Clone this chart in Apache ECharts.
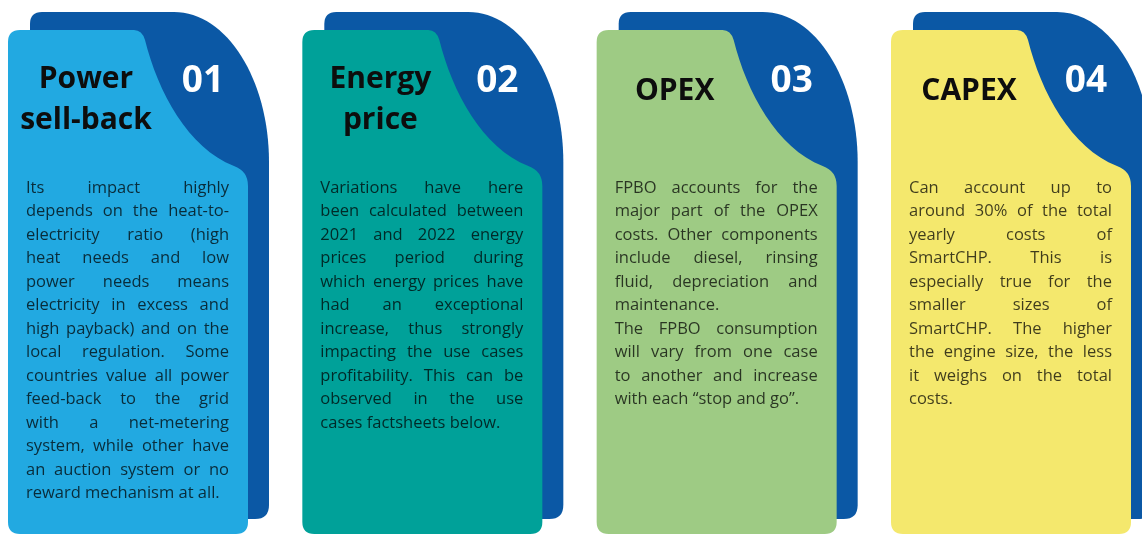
<!DOCTYPE html>
<html>
<head>
<meta charset="utf-8">
<script src="https://cdn.jsdelivr.net/npm/echarts@6/dist/echarts.min.js"></script>
<style>
  html, body { margin: 0; padding: 0; background: #fff; }
  #chart { width: 1142px; height: 536px; }
</style>
</head>
<body>
<div id="chart"></div>
<script>
// card content
const cardNumbers = ['01', '02', '03', '04']
const cardTitles = [['Power', 'sell-back'], ['Energy', 'price'], ['OPEX'], ['CAPEX']]
// each card: list of paragraphs, each paragraph a list of lines (last line not justified)
const cardBodies = [
  [[
    'Its impact highly',
    'depends on the heat-to-',
    'electricity ratio (high',
    'heat needs and low',
    'power needs means',
    'electricity in excess and',
    'high payback) and on the',
    'local regulation. Some',
    'countries value all power',
    'feed-back to the grid',
    'with a net-metering',
    'system, while other have',
    'an auction system or no',
    'reward mechanism at all.'
  ]],
  [[
    'Variations have here',
    'been calculated between',
    '2021 and 2022 energy',
    'prices period during',
    'which energy prices have',
    'had an exceptional',
    'increase, thus strongly',
    'impacting the use cases',
    'profitability. This can be',
    'observed in the use',
    'cases factsheets below.'
  ]],
  [[
    'FPBO accounts for the',
    'major part of the OPEX',
    'costs. Other components',
    'include diesel, rinsing',
    'fluid, depreciation and',
    'maintenance.'
  ], [
    'The FPBO consumption',
    'will vary from one case',
    'to another and increase',
    'with each \u201Cstop and go\u201D.'
  ]],
  [[
    'Can account up to',
    'around 30% of the total',
    'yearly costs of',
    'SmartCHP. This is',
    'especially true for the',
    'smaller sizes of',
    'SmartCHP. The higher',
    'the engine size, the less',
    'it weighs on the total',
    'costs.'
  ]]
]

const cardColors = ['#22a9e1', '#00a199', '#9ecb84', '#f4e86d']
const backColor = '#0b58a5'

const FONT = '"Open Sans", "Noto Sans", sans-serif'
const BODY_W = 203
const LINE_H = 23.5

const ctx = document.createElement('canvas').getContext('2d')
function textW(s, size, weight) {
  ctx.font = (weight || 'normal') + ' ' + size + 'px ' + FONT
  return ctx.measureText(s).width
}

// shrink body font until every justified line fits
let bodySize = 16.5
cardBodies.forEach(paras => paras.forEach(lines => lines.forEach(line => {
  const words = line.split(' ')
  let need = words.reduce((a, w) => a + textW(w, 16.5), 0) + (words.length - 1) * 0.22 * 16.5
  if (need > BODY_W) bodySize = Math.min(bodySize, 16.5 * BODY_W / need)
})))

function layoutBody(paras, x0, y0) {
  const out = []
  let row = 0
  const space = textW(' ', bodySize)
  paras.forEach(lines => {
    lines.forEach((line, k) => {
      const words = line.split(' ')
      const widths = words.map(w => textW(w, bodySize))
      const sum = widths.reduce((a, b) => a + b, 0)
      const last = k === lines.length - 1
      const gap = (!last && words.length > 1) ? (BODY_W - sum) / (words.length - 1) : space
      let x = x0
      words.forEach((w, j) => {
        out.push({ text: w, x: x, y: y0 + row * LINE_H })
        x += widths[j] + gap
      })
      row++
    })
  })
  return out
}

function backPath(L, T) {
  const k = 0.5523
  const top = T - 18, left = L + 22, right = L + 261, bottom = T + 489
  const ax = L + 166, rx = right - ax, ay = T + 132
  return [
    'M', left, top + 12,
    'Q', left, top, left + 12, top,
    'L', ax, top,
    'C', ax + rx * k, top, right, ay - (ay - top) * k, right, ay,
    'L', right, bottom - 14,
    'Q', right, bottom, right - 14, bottom,
    'L', left, bottom, 'Z'
  ].join(' ')
}

function frontPath(L, T) {
  const W = 240, H = 504, r = 12
  return [
    'M', L, T + r,
    'Q', L, T, L + r, T,
    'L', L + 126, T,
    'Q', L + 134, T, L + 137, T + 10,
    'C', L + 150, T + 62, L + 180, T + 118, L + 226, T + 136,
    'Q', L + W, T + 141, L + W, T + 156,
    'L', L + W, T + H - r,
    'Q', L + W, T + H, L + W - r, T + H,
    'L', L + r, T + H,
    'Q', L, T + H, L, T + H - r, 'Z'
  ].join(' ')
}

function renderItem(params, api) {
  const i = params.dataIndex
  const cx = api.coord([api.value(0), 0])[0]
  const L = cx - 120, T = 30
  const children = [
    { type: 'path', shape: { pathData: backPath(L, T) }, style: { fill: backColor } },
    { type: 'path', shape: { pathData: frontPath(L, T) }, style: { fill: cardColors[i] } }
  ]
  const titles = cardTitles[i]
  const ty = titles.length > 1 ? [79, 120] : [91]
  titles.forEach((t, j) => {
    children.push({
      type: 'text',
      style: {
        text: t, x: L + 78, y: ty[j], fill: '#0d0d0d',
        font: 'bold 30px ' + FONT,
        align: 'center', verticalAlign: 'middle',
        textAlign: 'center', textVerticalAlign: 'middle'
      }
    })
  })
  children.push({
    type: 'text',
    style: {
      text: cardNumbers[i], x: L + 195, y: 81, fill: '#fff',
      font: 'bold 37px ' + FONT,
      align: 'center', verticalAlign: 'middle',
      textAlign: 'center', textVerticalAlign: 'middle'
    }
  })
  layoutBody(cardBodies[i], L + 18, 188).forEach(w => {
    children.push({
      type: 'text',
      style: {
        text: w.text, x: w.x, y: w.y, fill: 'rgba(0,0,0,0.74)',
        font: bodySize + 'px ' + FONT,
        align: 'left', verticalAlign: 'middle',
        textAlign: 'left', textVerticalAlign: 'middle'
      }
    })
  })
  return { type: 'group', children: children }
}

const chart = echarts.init(document.getElementById('chart'))
chart.setOption({
  backgroundColor: '#fff',
  animation: false,
  grid: { left: 128, right: 131, top: 0, bottom: 0 },
  xAxis: { type: 'value', min: 0, max: 3, show: false },
  yAxis: { type: 'value', min: 0, max: 1, show: false },
  series: [{
    type: 'custom',
    silent: true,
    clip: false,
    renderItem: renderItem,
    encode: { x: 0, y: 1 },
    data: cardNumbers.map((n, i) => [i, 0])
  }]
})
</script>
</body>
</html>
